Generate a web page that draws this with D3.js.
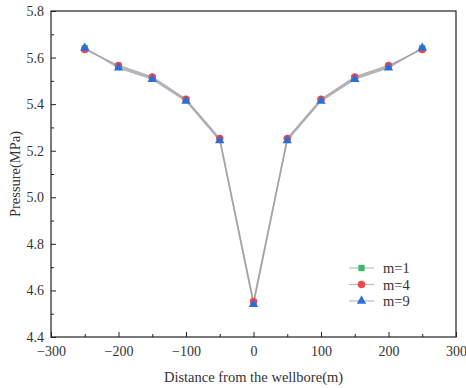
<!DOCTYPE html>
<html>
<head>
<meta charset="utf-8">
<script src="https://cdn.jsdelivr.net/npm/d3@7"></script>
<style>
  html, body { margin: 0; padding: 0; background: #fff; }
  svg text { font-family: "Liberation Serif", "Times New Roman", serif; fill: #333; }
</style>
</head>
<body>
<svg id="chart" width="466" height="388"></svg>
<script>
// Pressure distribution around the wellbore for three values of m
const distances = [-250, -200, -150, -100, -50, 0, 50, 100, 150, 200, 250];
const pressureM1 = [5.640, 5.561, 5.512, 5.418, 5.249, 4.547, 5.249, 5.418, 5.512, 5.561, 5.640];
const pressureM4 = [5.635, 5.566, 5.517, 5.421, 5.253, 4.553, 5.253, 5.421, 5.517, 5.566, 5.635];
const pressureM9 = [5.641, 5.556, 5.507, 5.413, 5.244, 4.540, 5.244, 5.413, 5.507, 5.556, 5.641];
const seriesNames = ["m=1", "m=4", "m=9"];
const xTicks = [-300, -200, -100, 0, 100, 200, 300];
const yTicks = [4.4, 4.6, 4.8, 5.0, 5.2, 5.4, 5.6, 5.8];

const series = [
  { name: seriesNames[0], values: pressureM1, color: "#3dba6b", line: "#b4c9ba", shape: d3.symbolSquare, size: 40 },
  { name: seriesNames[1], values: pressureM4, color: "#ea4a4c", line: "#cdb4b5", shape: d3.symbolCircle, size: 44 },
  { name: seriesNames[2], values: pressureM9, color: "#2a6fd8", line: "#b2bccf", shape: d3.symbolTriangle, size: 38 }
];

const svg = d3.select("#chart");
const m = { left: 51, right: 10, top: 11, bottom: 51 };
const W = 466, H = 388;
const x = d3.scaleLinear().domain([-300, 300]).range([m.left, W - m.right]);
const y = d3.scaleLinear().domain([4.4, 5.8]).range([H - m.bottom, m.top]);

// frame
svg.append("rect")
  .attr("x", x(-300)).attr("y", y(5.8))
  .attr("width", x(300) - x(-300)).attr("height", y(4.4) - y(5.8))
  .attr("fill", "none").attr("stroke", "#222").attr("stroke-width", 1.2);

// x axis: major ticks with labels, minor ticks in between, all pointing inward
const xAxis = d3.axisBottom(x).tickValues(xTicks).tickSize(-5).tickPadding(9)
  .tickFormat(d => d < 0 ? "\u2212" + Math.abs(d) : d);
const gx = svg.append("g").attr("transform", `translate(0,${y(4.4)})`).call(xAxis);
gx.select(".domain").remove();
gx.selectAll("line").attr("stroke", "#222");
gx.selectAll("text").attr("font-size", 14).attr("fill", "#333");
const gxm = svg.append("g").attr("transform", `translate(0,${y(4.4)})`)
  .call(d3.axisBottom(x).tickValues(d3.range(-250, 300, 100)).tickSize(-3).tickFormat(""));
gxm.select(".domain").remove();
gxm.selectAll("line").attr("stroke", "#222");

// y axis
const yAxis = d3.axisLeft(y).tickValues(yTicks).tickSize(-5).tickPadding(7)
  .tickFormat(d3.format(".1f"));
const gy = svg.append("g").attr("transform", `translate(${x(-300)},0)`).call(yAxis);
gy.select(".domain").remove();
gy.selectAll("line").attr("stroke", "#222");
gy.selectAll("text").attr("font-size", 14).attr("fill", "#333");
const gym = svg.append("g").attr("transform", `translate(${x(-300)},0)`)
  .call(d3.axisLeft(y).tickValues(d3.range(4.5, 5.8, 0.2)).tickSize(-3).tickFormat(""));
gym.select(".domain").remove();
gym.selectAll("line").attr("stroke", "#222");

// axis titles
svg.append("text")
  .attr("x", (x(-300) + x(300)) / 2).attr("y", 382)
  .attr("text-anchor", "middle").attr("font-size", 14.5)
  .text("Distance from the wellbore(m)");
svg.append("text")
  .attr("transform", `translate(20,${(y(4.4) + y(5.8)) / 2}) rotate(-90)`)
  .attr("text-anchor", "middle").attr("font-size", 14.5)
  .text("Pressure(MPa)");

// lines
const line = d3.line().x(d => x(d[0])).y(d => y(d[1]));
series.forEach(s => {
  svg.append("path")
    .datum(distances.map((d, i) => [d, s.values[i]]))
    .attr("d", line).attr("fill", "none")
    .attr("stroke", s.line).attr("stroke-width", 1.3);
});
// thin darker core line
series.forEach(s => {
  svg.append("path")
    .datum(distances.map((d, i) => [d, s.values[i]]))
    .attr("d", line).attr("fill", "none")
    .attr("stroke", "#888").attr("stroke-width", 0.5).attr("opacity", 0.5);
});

// markers
series.forEach(s => {
  svg.append("g").selectAll("path")
    .data(distances.map((d, i) => [d, s.values[i]]))
    .join("path")
    .attr("transform", d => `translate(${x(d[0])},${y(d[1])})`)
    .attr("d", d3.symbol().type(s.shape).size(s.size))
    .attr("fill", s.color);
});

// legend
const lg = svg.append("g");
series.forEach((s, i) => {
  const ly = 268 + i * 16.5;
  lg.append("line").attr("x1", 349).attr("x2", 374).attr("y1", ly).attr("y2", ly)
    .attr("stroke", s.line).attr("stroke-width", 1.2);
  lg.append("path").attr("transform", `translate(${361.5},${ly})`)
    .attr("d", d3.symbol().type(s.shape).size(s.size)).attr("fill", s.color);
  lg.append("text").attr("x", 383).attr("y", ly + 5).attr("font-size", 14.5).text(s.name);
});
</script>
</body>
</html>
